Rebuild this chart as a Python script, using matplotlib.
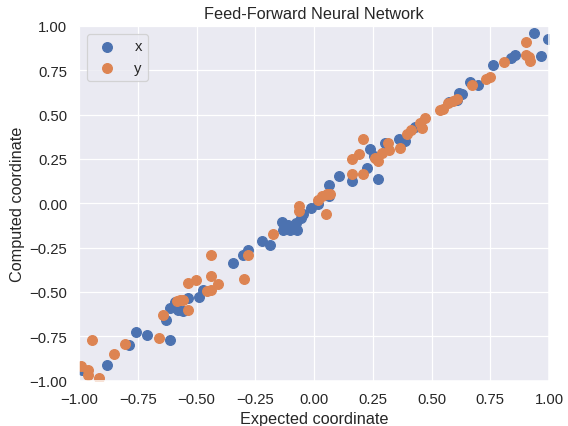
import matplotlib
matplotlib.use("Agg")
import matplotlib.pyplot as plt
import numpy as np
import seaborn as sns

# expected vs computed, x coordinate
x_exp = [-0.986, -0.882, -0.787, -0.757, -0.709, -0.631, -0.614, -0.613, -0.591, -0.577,
         -0.556, -0.535, -0.488, -0.474, -0.346, -0.301, -0.282, -0.223, -0.187, -0.138,
         -0.131, -0.109, -0.102, -0.074, -0.077, -0.057, -0.045, -0.014, 0.018, 0.065,
         0.065, 0.108, 0.160, 0.224, 0.238, 0.253, 0.270, 0.302, 0.363, 0.387,
         0.430, 0.576, 0.607, 0.618, 0.628, 0.664, 0.699, 0.760, 0.837, 0.855,
         0.936, 0.966, 0.997]
x_cmp = [-0.938, -0.913, -0.800, -0.725, -0.744, -0.655, -0.768, -0.589, -0.557, -0.599,
         -0.608, -0.533, -0.529, -0.486, -0.335, -0.288, -0.262, -0.213, -0.232, -0.105,
         -0.147, -0.119, -0.147, -0.151, -0.109, -0.081, -0.062, -0.024, -0.002, 0.102,
         0.041, 0.154, 0.126, 0.201, 0.309, 0.267, 0.136, 0.343, 0.365, 0.352,
         0.433, 0.572, 0.584, 0.625, 0.616, 0.686, 0.667, 0.780, 0.823, 0.838,
         0.960, 0.833, 0.927]

# expected vs computed, y coordinate
y_exp = [-0.993, -0.963, -0.963, -0.946, -0.915, -0.851, -0.804, -0.662, -0.645, -0.584,
         -0.570, -0.556, -0.535, -0.535, -0.504, -0.457, -0.440, -0.440, -0.409, -0.440,
         -0.298, -0.282, -0.173, -0.062, -0.062, 0.018, 0.033, 0.054, 0.068, 0.051,
         0.160, 0.160, 0.191, 0.207, 0.210, 0.260, 0.270, 0.288, 0.316, 0.320,
         0.366, 0.397, 0.411, 0.451, 0.461, 0.472, 0.536, 0.550, 0.571, 0.590,
         0.610, 0.671, 0.732, 0.749, 0.810, 0.902, 0.902, 0.916, 0.919]
y_cmp = [-0.915, -0.938, -0.966, -0.772, -0.983, -0.847, -0.795, -0.759, -0.627, -0.552,
         -0.542, -0.542, -0.603, -0.448, -0.429, -0.495, -0.490, -0.410, -0.452, -0.288,
         -0.424, -0.288, -0.171, -0.015, -0.043, 0.019, 0.041, 0.051, 0.051, -0.062,
         0.169, 0.249, 0.281, 0.365, 0.169, 0.258, 0.239, 0.286, 0.343, 0.301,
         0.315, 0.390, 0.414, 0.456, 0.428, 0.484, 0.527, 0.531, 0.569, 0.578,
         0.588, 0.667, 0.700, 0.716, 0.800, 0.908, 0.838, 0.827, 0.805]

sns.set_theme(font_scale=1.1)
plt.rcParams["font.family"] = ["Liberation Sans", "DejaVu Sans"]
fig, ax = plt.subplots(figsize=(6.4, 4.8), dpi=88.9)
ax.scatter(x_exp, x_cmp, s=62, label="x")
ax.scatter(y_exp, y_cmp, s=62, label="y")
ax.set_xlim(-1, 1); ax.set_ylim(-1, 1)
ax.set_xlabel("Expected coordinate"); ax.set_ylabel("Computed coordinate")
ax.set_title("Feed-Forward Neural Network")
ax.legend(loc="upper left")
fig.subplots_adjust(left=0.139, right=0.965, top=0.937, bottom=0.106)
fig.savefig("out.png", dpi=88.9)
